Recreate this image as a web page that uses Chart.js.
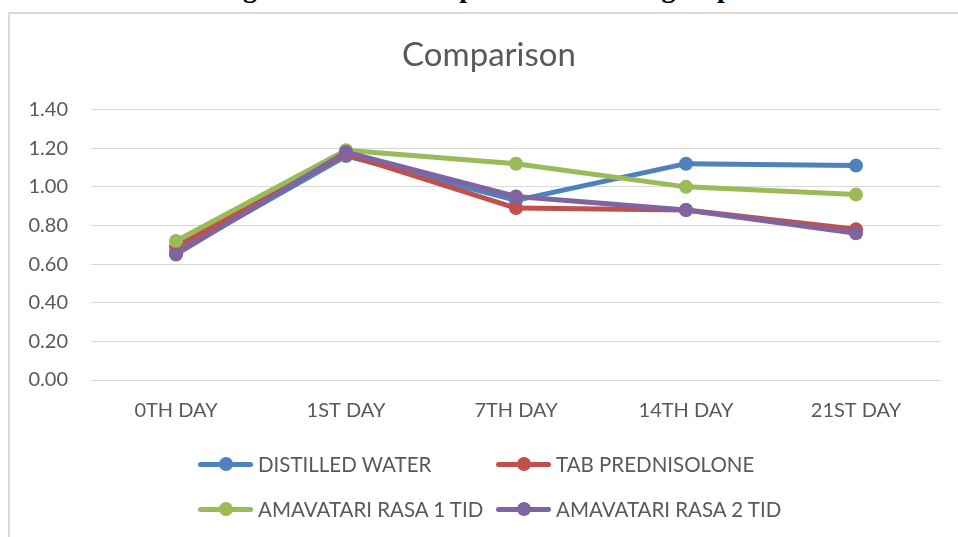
<!DOCTYPE html>
<html>
<head>
<meta charset="utf-8">
<script src="https://cdn.jsdelivr.net/npm/chart.js@4.4.1/dist/chart.umd.min.js"></script>
<style>
  html, body { margin: 0; padding: 0; background: #fff; overflow: hidden; }
  body { width: 958px; height: 537px; position: relative; }
  #caption {
    position: absolute; left: 218px; top: -28px; white-space: nowrap;
    font: bold 28px "Liberation Serif", "DejaVu Serif", serif; color: #000;
  }
  #frame {
    position: absolute; left: 8px; top: 12px; width: 1000px; height: 600px;
    border: 2px solid #d9d9d9; box-sizing: border-box; background: #fff;
  }
  #wrap { position: absolute; left: 0; top: 0; width: 958px; height: 537px; }
  #legend { position: absolute; left: 0; top: 0; }
  .item {
    position: absolute; display: flex; align-items: center; white-space: nowrap;
    font: 20.5px Lato, "Noto Sans", sans-serif; color: #595959;
  }
  .mark { position: relative; width: 55px; height: 14px; margin-right: 5px; }
  .mark .ln { position: absolute; left: 0; right: 0; top: 4.5px; height: 5px; border-radius: 3px; }
  .mark .dot { position: absolute; left: 20.5px; top: 0; width: 14px; height: 14px; border-radius: 50%; }
</style>
</head>
<body>
<div id="caption">Figure 3: Mean comparison between groups</div>
<div id="frame"></div>
<div id="wrap"><canvas id="chart" width="958" height="537"></canvas></div>
<div id="legend"></div>
<script>
const days = ["0TH DAY", "1ST DAY", "7TH DAY", "14TH DAY", "21ST DAY"];
const distilledWater = [0.66, 1.16, 0.93, 1.12, 1.11];
const tabPrednisolone = [0.69, 1.17, 0.89, 0.88, 0.78];
const amavatari1 = [0.72, 1.19, 1.12, 1.00, 0.96];
const amavatari2 = [0.65, 1.18, 0.95, 0.88, 0.76];
const yTicks = [0, 0.2, 0.4, 0.6, 0.8, 1.0, 1.2, 1.4];

const textColor = "#595959";
const font = "Lato, 'Noto Sans', sans-serif";

function series(label, data, color, order) {
  return {
    label: label,
    data: data,
    borderColor: color,
    backgroundColor: color,
    pointBackgroundColor: color,
    pointBorderColor: color,
    borderWidth: 5,
    pointRadius: 7,
    pointHoverRadius: 7,
    pointBorderWidth: 0,
    borderJoinStyle: "round",
    borderCapStyle: "round",
    tension: 0,
    order: order
  };
}

const chart = new Chart(document.getElementById("chart"), {
  type: "line",
  data: {
    labels: days,
    datasets: [
      series("DISTILLED WATER", distilledWater, "#4f81bd", 3),
      series("TAB PREDNISOLONE", tabPrednisolone, "#c0504d", 2),
      series("AMAVATARI RASA 1 TID", amavatari1, "#9bbb59", 1),
      series("AMAVATARI RASA 2 TID", amavatari2, "#8064a2", 0)
    ]
  },
  options: {
    responsive: false,
    animation: false,
    layout: { padding: { left: 20, right: 0, top: 0, bottom: 107 } },
    plugins: {
      legend: { display: false },
      tooltip: { enabled: false },
      title: {
        display: true,
        text: "Comparison",
        color: textColor,
        font: { family: font, size: 33, weight: "normal", lineHeight: 1.2 },
        padding: { top: 36, bottom: 34 }
      }
    },
    scales: {
      x: {
        offset: true,
        grid: { display: false },
        border: { display: false },
        ticks: { color: textColor, font: { family: font, size: 20 }, padding: 11, maxRotation: 0 },
        afterFit: s => { s.height = 50; }
      },
      y: {
        min: 0,
        max: 1.4,
        afterBuildTicks: s => { s.ticks = yTicks.map(v => ({ value: v })); },
        grid: { color: "#d9d9d9", lineWidth: 1, drawTicks: false },
        border: { display: false },
        ticks: {
          color: textColor, font: { family: font, size: 20 }, padding: 23,
          callback: v => Number(v).toFixed(2)
        },
        afterFit: s => { s.width = 71; }
      },
      // empty right-hand margin so the plot ends where the reference does
      yRight: {
        position: "right",
        grid: { display: false },
        border: { display: false },
        ticks: { display: false },
        afterFit: s => { s.width = 17; }
      }
    }
  }
});

// legend laid out in two aligned columns, built from the chart datasets
const legend = document.getElementById("legend");
const cols = [198, 496];
const rows = [465, 510];
chart.data.datasets.forEach((ds, i) => {
  const item = document.createElement("div");
  item.className = "item";
  item.style.left = cols[i % 2] + "px";
  item.style.top = (rows[Math.floor(i / 2)] - 13) + "px";
  item.innerHTML = `
    <span class="mark"><span class="ln" style="background:${ds.borderColor}"></span><span class="dot" style="background:${ds.borderColor}"></span></span>
    <span>${ds.label}</span>
  `;
  legend.appendChild(item);
});
</script>
</body>
</html>
